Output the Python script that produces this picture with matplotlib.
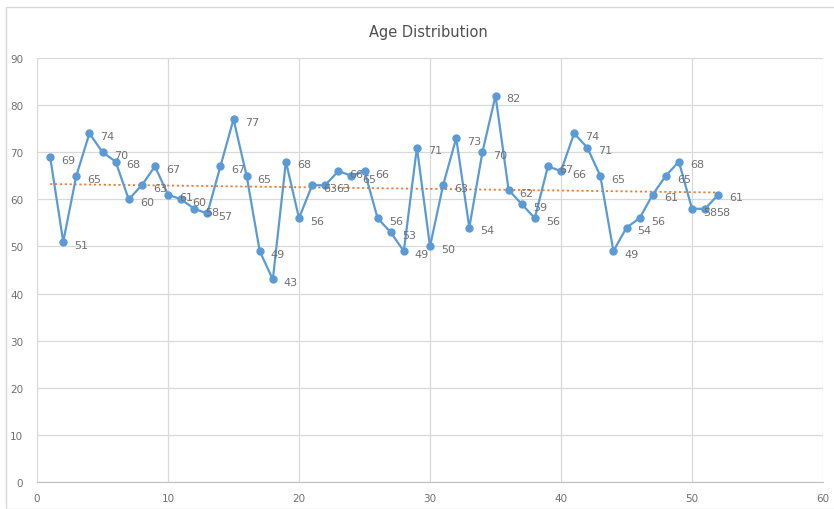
import numpy as np
import matplotlib.pyplot as plt
from matplotlib.patches import Rectangle

# 数据
x = np.arange(1, 53)
ages = [69, 51, 65, 74, 70, 68, 60, 63, 67, 61, 60, 58, 57, 67, 77, 65, 49, 43,
        68, 56, 63, 63, 66, 65, 66, 56, 53, 49, 71, 50, 63, 73, 54, 70, 82, 62,
        59, 56, 67, 66, 74, 71, 65, 49, 54, 56, 61, 65, 68, 58, 58, 61]
x_ticks = [0, 10, 20, 30, 40, 50, 60]
y_ticks = [0, 10, 20, 30, 40, 50, 60, 70, 80, 90]

fig = plt.figure(figsize=(8.34, 5.10), dpi=100)
fig.patches.append(Rectangle((0.007, 0.0), 1.0, 0.985, transform=fig.transFigure,
                             fill=False, edgecolor='#d9d9d9', linewidth=1))
ax = fig.add_axes([0.0444, 0.0529, 0.9424, 0.8314])

ax.plot(x, ages, color='#5b9bd5', linewidth=1.6, marker='o', markersize=5, zorder=3)
for xi, yi in zip(x, ages):
    ax.annotate(str(yi), (xi, yi), xytext=(8, -2), textcoords='offset points',
                fontsize=8, color='#707070', va='center', ha='left', zorder=4)

# 趋势线
k, b = np.polyfit(x, ages, 1)
ax.plot(x, k * x + b, color='#ed7d31', linestyle=(0, (1.2, 1.5)), linewidth=1.3, zorder=2)

ax.set_xlim(0, 60)
ax.set_ylim(0, 90)
ax.set_xticks(x_ticks)
ax.set_yticks(y_ticks)
ax.grid(color='#d9d9d9', linewidth=0.9)
ax.set_axisbelow(True)
for s in ['top', 'right', 'left']:
    ax.spines[s].set_visible(False)
ax.spines['bottom'].set_color('#bfbfbf')
ax.tick_params(length=0, labelsize=7.5, labelcolor='#707070', pad=8)
ax.tick_params(axis='y', pad=10)

fig.text(0.514, 0.937, 'Age Distribution', ha='center', va='center',
         fontsize=10.5, color='#505050')

fig.savefig('out.png', dpi=100)
